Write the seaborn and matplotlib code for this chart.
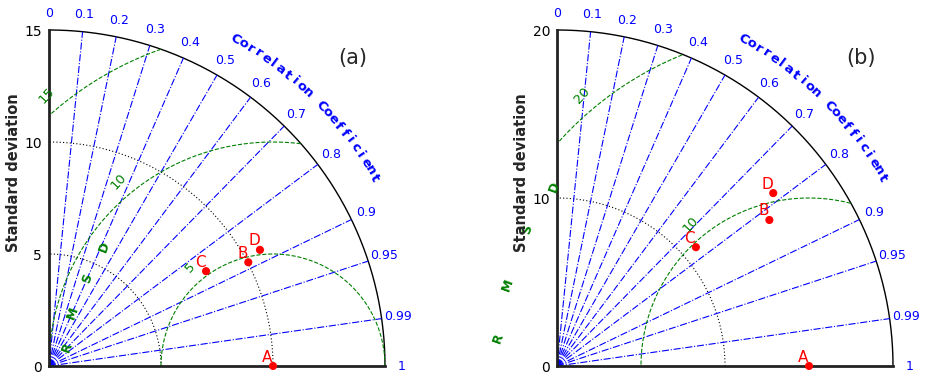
import numpy as np
import pandas as pd
import matplotlib
matplotlib.use("Agg")
import matplotlib.pyplot as plt
import seaborn as sns

# ---------------- data ----------------
labels = ["A", "B", "C", "D"]
std_a = [10.0, 10.03, 8.19, 10.75]
corr_a = [1.0, 0.887, 0.856, 0.876]
std_b = [15.0, 15.34, 10.88, 16.48]
corr_b = [1.0, 0.824, 0.760, 0.781]
ref_a = 10.0
ref_b = 15.0
rmax_a = 15
rmax_b = 20
yticks_a = [0, 5, 10, 15]
yticks_b = [0, 10, 20]
std_arcs_a = [5, 10]
std_arcs_b = [10]
rms_levels_a = [5, 10, 15]
rms_levels_b = [10, 20]
corr_lines = [0.1, 0.2, 0.3, 0.4, 0.5, 0.6, 0.7, 0.8, 0.9, 0.95, 0.99]
corr_ticks = [0, 0.1, 0.2, 0.3, 0.4, 0.5, 0.6, 0.7, 0.8, 0.9, 0.95, 0.99, 1]
corr_tick_labels = ["0", "0.1", "0.2", "0.3", "0.4", "0.5", "0.6", "0.7",
                    "0.8", "0.9", "0.95", "0.99", "1"]

sns.set_style("white")
plt.rcParams["font.family"] = ["DejaVu Sans"]

fig = plt.figure(figsize=(9.29, 3.78), dpi=100)
W, H = 929, 378


def taylor(ax, rmax, yticks, stds, corrs, ref, rms_levels, std_arcs,
           letter_pos, panel):
    # points via seaborn
    stds = np.asarray(stds, float)
    corrs = np.asarray(corrs, float)
    th = np.arccos(corrs)
    df = pd.DataFrame({"x": stds * np.cos(th), "y": stds * np.sin(th),
                       "label": labels})
    sns.scatterplot(data=df, x="x", y="y", color="red", s=34,
                    edgecolor="none", ax=ax, clip_on=False, zorder=6)
    for _, row in df.iterrows():
        ax.annotate(row["label"], (row["x"], row["y"]), xytext=(-6, 9),
                    textcoords="offset pixels", color="red", fontsize=11,
                    ha="center", va="center", zorder=7, annotation_clip=False)
    ax.set_xlabel("")
    ax.set_ylabel("")
    ax.set_xlim(0, rmax)
    ax.set_ylim(0, rmax)
    for s in ["top", "right"]:
        ax.spines[s].set_visible(False)
    for s in ["left", "bottom"]:
        ax.spines[s].set_linewidth(2.0)
        ax.spines[s].set_color("#222222")
    ax.set_xticks([])
    ax.set_yticks(yticks)
    ax.set_yticklabels([str(v) for v in yticks])
    ax.tick_params(axis="y", length=0, pad=5, labelsize=10, colors="black")
    ax.patch.set_alpha(0)

    t = np.linspace(0, np.pi / 2, 400)
    # outer arc
    ax.plot(rmax * np.cos(t), rmax * np.sin(t), color="black", lw=1.0,
            clip_on=False)
    # std arcs
    for r in std_arcs:
        ax.plot(r * np.cos(t), r * np.sin(t), color="black", ls=(0, (1, 2)),
                lw=0.8)
    # correlation lines
    for c in corr_lines:
        a = np.arccos(c)
        ax.plot([0, rmax * np.cos(a)], [0, rmax * np.sin(a)], color="blue",
                ls="-.", lw=0.8)
    # correlation tick labels
    for c, lab in zip(corr_ticks, corr_tick_labels):
        a = np.arccos(c)
        ax.text(1.05 * rmax * np.cos(a), 1.05 * rmax * np.sin(a), lab,
                color="blue", fontsize=9, ha="center", va="center",
                clip_on=False)
    # curved title
    title = "Correlation Coefficient"
    angs = np.linspace(60.3, 30.0, len(title))
    for ch, ang in zip(title, angs):
        ar = np.deg2rad(ang)
        ax.text(1.12 * rmax * np.cos(ar), 1.12 * rmax * np.sin(ar), ch,
                color="blue", fontsize=9.5, fontweight="bold",
                rotation=ang - 90, ha="center", va="center", clip_on=False,
                rotation_mode="anchor")
    # RMSD arcs
    tt = np.linspace(0, np.pi, 800)
    for r in rms_levels:
        x = ref + r * np.cos(tt)
        y = r * np.sin(tt)
        mask = (x >= 0) & (x ** 2 + y ** 2 <= rmax ** 2)
        x = np.where(mask, x, np.nan)
        y = np.where(mask, y, np.nan)
        ax.plot(x, y, color="green", ls="--", lw=0.8)
        la = np.deg2rad(130)
        d = r + 0.05 * rmax
        ax.text(ref + d * np.cos(la), d * np.sin(la), str(r), color="green",
                fontsize=9.5, rotation=48, ha="center", va="center",
                clip_on=False)
    # RMSD letters
    for ch, (fx, fy) in zip("RMSD", letter_pos):
        ax.text(fx, fy, ch, transform=ax.transAxes, color="green",
                fontsize=9, fontweight="bold", rotation=70, ha="center",
                va="center", clip_on=False)
    # y label
    ax.text(-0.106, 0.577, "Standard deviation", transform=ax.transAxes,
            rotation=90, fontsize=10.5, fontweight="bold", ha="center",
            va="center")
    ax.text(0.905, 0.917, panel, transform=ax.transAxes, fontsize=15,
            ha="center", va="center")


ax1 = fig.add_axes([49 / W, 12 / H, 336 / W, 336 / H])
ax2 = fig.add_axes([557 / W, 12 / H, 336 / W, 336 / H])

taylor(ax1, rmax_a, yticks_a, std_a, corr_a, ref_a, rms_levels_a, std_arcs_a,
       [(0.054, 0.057), (0.071, 0.158), (0.113, 0.259), (0.164, 0.354)],
       "(a)")
taylor(ax2, rmax_b, yticks_b, std_b, corr_b, ref_b, rms_levels_b, std_arcs_b,
       [(-0.176, 0.083), (-0.146, 0.241), (-0.089, 0.405), (-0.009, 0.533)],
       "(b)")

fig.savefig("out.png", dpi=100, facecolor="white")
